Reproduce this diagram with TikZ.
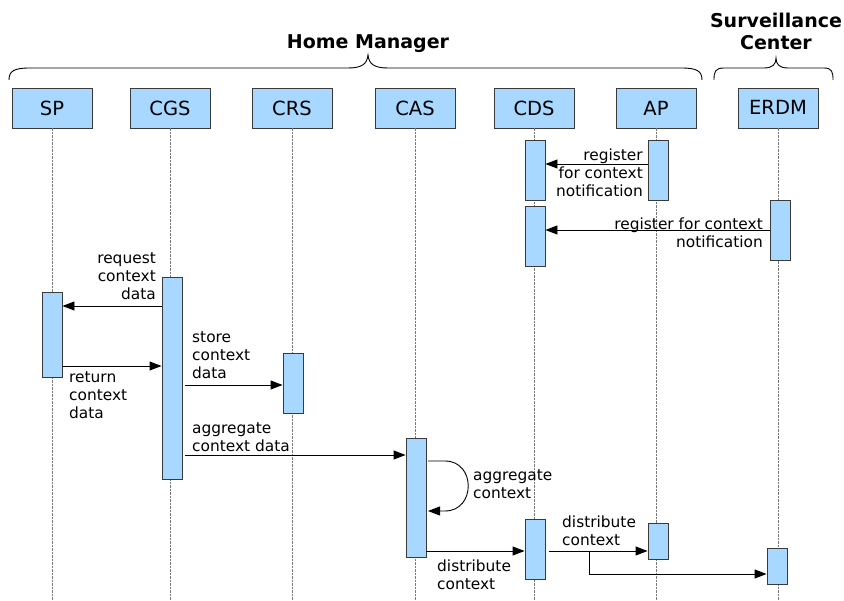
\documentclass[tikz,border=0pt]{standalone}
\usepackage{fontspec}
\setmainfont{DejaVu Sans}
\usetikzlibrary{arrows.meta}
\definecolor{boxblue}{HTML}{A8D8FF}
\definecolor{boxline}{HTML}{3A3A3A}
\definecolor{lifegray}{HTML}{7A7A7A}
\begin{document}
\begin{tikzpicture}[x=1pt,y=-1pt,
  actor/.style={draw=boxline,fill=boxblue,line width=0.9pt,minimum width=80pt,minimum height=40pt,inner sep=0pt,font=\fontsize{19.5}{22}\selectfont},
  actbar/.style={draw=boxline,fill=boxblue,line width=0.9pt,minimum width=20pt,inner sep=0pt},
  life/.style={draw=lifegray,line width=0.9pt,dash pattern=on 2.5pt off 1pt},
  msg/.style={draw=black,line width=0.9pt,-{Triangle[length=12pt,width=9pt]}},
  lbl/.style={inner sep=0pt,font=\fontsize{15.4}{18}\selectfont},
  grp/.style={inner sep=0pt,font=\fontsize{19}{22}\selectfont\bfseries,align=center},
  brace/.style={draw=black,line width=0.9pt}]
\useasboundingbox (0,0) rectangle (844,601);
% actors
\node[actor] (sp)   at (52,108)  {SP};
\node[actor] (cgs)  at (170,108) {CGS};
\node[actor] (crs)  at (292,108) {CRS};
\node[actor] (cas)  at (415,108) {CAS};
\node[actor] (cds)  at (534,108) {CDS};
\node[actor] (ap)   at (656,108) {AP};
\node[actor] (erdm) at (778,108) {\raisebox{2pt}{ERDM}};
% lifelines
\foreach \a in {sp,cgs,crs,cas,cds,ap,erdm}{
  \draw[life] (\a.south) -- (\a.south |- 0,601);
}
% groups
\node[grp] (hm) at (368,44) {Home Manager};
\node[grp] (sc) at (776,31) {Surveillance\\Center};
\draw[brace] (9,80) .. controls (9,71) and (14,68) .. (30,68) -- (348,68)
  .. controls (362,68) and (367,64) .. (368,55)
  .. controls (369,64) and (374,68) .. (388,68) -- (681,68)
  .. controls (697,68) and (702,71) .. (702,80);
\draw[brace] (714,80) .. controls (714,72) and (715,68) .. (724,68) -- (764,68)
  .. controls (773,68) and (776,64) .. (776,58)
  .. controls (776,64) and (779,68) .. (788,68) -- (824,68)
  .. controls (832,68) and (833,72) .. (833,80);
% activation bars
\node[actbar,minimum height=60pt] (cds1) at (535,170) {};
\node[actbar,minimum height=60pt] (ap1)  at (658,170) {};
\node[actbar,minimum height=60pt] (cds2) at (535,236) {};
\node[actbar,minimum height=60pt] (erdm1) at (780,230) {};
\node[actbar,minimum height=85pt] (sp1)  at (52,334.5) {};
\node[actbar,minimum height=202pt] (cgs1) at (172,378) {};
\node[actbar,minimum height=60pt] (crs1) at (293,383) {};
\node[actbar,minimum height=119pt] (cas1) at (416,497.5) {};
\node[actbar,minimum height=60pt] (cds3) at (535,549) {};
\node[actbar,minimum height=36pt] (ap2)  at (658,541) {};
\node[actbar,minimum height=36pt] (erdm2) at (777,566) {};
% messages
\draw[msg] (ap1.west |- 0,164) -- (cds1.east |- 0,164);
\node[lbl,anchor=east,align=right] (l1) at (643,173) {register\\for context\\notification};
\draw[msg] (erdm1.west |- 0,230) -- (cds2.east |- 0,230);
\node[lbl,anchor=east,align=right] (l2) at (763,233) {register for context\\notification};
\draw[msg] (cgs1.west |- 0,306) -- (sp1.east |- 0,306);
\node[lbl,anchor=east,align=right] (l3) at (156,276) {request\\context\\data};
\draw[msg] (sp1.east |- 0,366) -- (cgs1.west |- 0,366);
\node[lbl,anchor=west,align=left] (l4) at (69,395) {return\\context\\data};
\coordinate (s1) at (185,385);
\draw[msg] (s1) -- (crs1.west |- s1);
\node[lbl,anchor=west,align=left] (l5) at (192,355) {store\\context\\data};
\coordinate (s2) at (185,455);
\draw[msg] (s2) -- (cas1.west |- s2);
\node[lbl,anchor=west,align=left] (l6) at (192,437) {aggregate\\context data};
\coordinate (la) at (428,461);
\coordinate (lb) at (428,511);
\draw[msg] (la) -- (445,461) .. controls (476,461) and (476,511) .. (445,511) -- (lb);
\node[lbl,anchor=west,align=left] (l7) at (473,484) {aggregate\\context};
\draw[msg] (cas1.east |- 0,551) -- (cds3.west |- 0,551);
\node[lbl,anchor=west,align=left] (l8) at (437,575) {distribute\\context};
\coordinate (d2) at (549,551);
\draw[msg] (d2) -- (ap2.west |- d2);
\node[lbl,anchor=west,align=left] (l9) at (562,531) {distribute\\context};
\coordinate (br) at (589,551);
\draw[msg] (br) |- (erdm2.west |- 0,574);
\end{tikzpicture}
\end{document}
